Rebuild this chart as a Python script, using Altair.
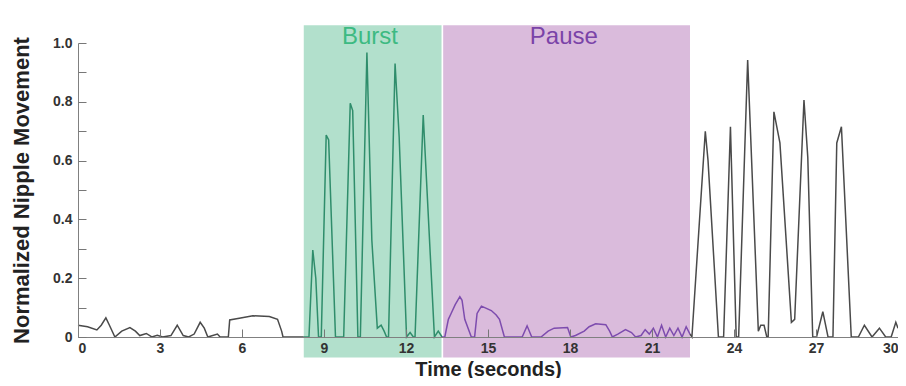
import altair as alt
import pandas as pd

# ---- data ----
time_s = [
    0.00, 0.35, 0.69, 0.85, 1.02, 1.15, 1.35, 1.60, 1.90, 2.10, 2.26, 2.50, 2.70, 2.90, 3.10,
    3.40, 3.63, 3.85, 4.05, 4.25, 4.47, 4.62, 4.75, 5.10, 5.20, 5.50, 5.55, 5.90, 6.40, 7.00,
    7.30, 7.45, 7.50, 8.26,
    8.45, 8.59, 8.70, 8.80, 8.90, 9.08, 9.17, 9.42, 9.72, 9.96, 10.05, 10.24, 10.33, 10.57,
    10.75, 10.95, 11.09, 11.20, 11.29, 11.36, 11.60, 11.75, 12.02, 12.15, 12.27, 12.33, 12.63,
    13.04, 13.18, 13.32,
    13.42, 13.55, 13.65, 13.80, 13.97, 14.05, 14.15, 14.39, 14.51, 14.60, 14.76, 15.12, 15.30,
    15.42, 15.60, 16.25, 16.43, 16.60, 16.94, 17.20, 17.42, 17.91, 18.03, 18.20, 18.52, 18.70,
    18.94, 19.31, 19.45, 19.55, 19.75, 20.03, 20.25, 20.40, 20.60, 20.75, 20.90, 21.05, 21.20,
    21.35, 21.50, 21.65, 21.80, 21.95, 22.10, 22.25, 22.39,
    22.46, 22.95, 23.05, 23.43, 23.62, 23.87, 24.08, 24.17, 24.50, 24.89, 24.98, 25.10, 25.20,
    25.25, 25.46, 25.68, 26.10, 26.22, 26.56, 26.70, 26.88, 27.02, 27.25, 27.44, 27.62, 27.76,
    27.93, 28.29, 28.55, 28.77, 29.05, 29.32, 29.55, 29.75, 29.92, 30.00,
]
movement = [
    0.040, 0.035, 0.024, 0.040, 0.065, 0.040, 0.000, 0.020, 0.032, 0.020, 0.005, 0.012, 0.000, 0.006, 0.000,
    0.005, 0.040, 0.005, 0.000, 0.010, 0.050, 0.030, 0.000, 0.010, 0.000, 0.000, 0.058, 0.064, 0.072, 0.070,
    0.060, 0.020, 0.000, 0.000,
    0.000, 0.296, 0.200, 0.000, 0.000, 0.687, 0.670, 0.000, 0.000, 0.795, 0.770, 0.000, 0.000, 0.968,
    0.330, 0.030, 0.040, 0.020, 0.000, 0.000, 0.930, 0.680, 0.000, 0.015, 0.000, 0.000, 0.755,
    0.000, 0.020, 0.000,
    0.000, 0.060, 0.080, 0.110, 0.137, 0.125, 0.060, 0.000, 0.000, 0.080, 0.105, 0.090, 0.075,
    0.060, 0.000, 0.000, 0.038, 0.000, 0.000, 0.020, 0.030, 0.032, 0.000, 0.005, 0.020, 0.035,
    0.045, 0.042, 0.020, 0.000, 0.010, 0.025, 0.015, 0.000, 0.005, 0.025, 0.010, 0.030, 0.000,
    0.040, 0.000, 0.030, 0.005, 0.030, 0.000, 0.035, 0.010,
    0.000, 0.700, 0.600, 0.000, 0.000, 0.715, 0.000, 0.000, 0.942, 0.020, 0.040, 0.040, 0.000,
    0.000, 0.766, 0.660, 0.050, 0.060, 0.806, 0.610, 0.000, 0.000, 0.086, 0.000, 0.000, 0.660,
    0.715, 0.000, 0.000, 0.040, 0.000, 0.030, 0.000, 0.000, 0.050, 0.030,
]

phase_names = ["Burst", "Pause"]
phase_start = [8.26, 13.36]
phase_end = [13.30, 22.39]
x_ticks = list(range(0, 31, 3))
y_ticks = [0, 0.2, 0.4, 0.6, 0.8, 1.0]
y_minor = [round(i * 0.1, 1) for i in range(11)]

W, H = 820, 294

# ---- tables ----
bounds = [(0.0, 8.26, "other", 0), (8.26, 13.32, "burst", 1),
          (13.32, 22.39, "pause", 2), (22.39, 30.0, "other", 3)]
rows = []
for lo, hi, cls, grp in bounds:
    for t, v in zip(time_s, movement):
        if lo <= t <= hi:
            rows.append({"t": t, "v": v, "cls": cls, "grp": grp})
line_df = pd.DataFrame(rows)

phase_df = pd.DataFrame({
    "name": phase_names,
    "x": phase_start,
    "x2": phase_end,
    "y": [-0.07, -0.07],
    "y2": [1.06, 1.06],
    "xc": [(a + b) / 2 - 0.1 for a, b in zip(phase_start, phase_end)],
    "yc": [1.02, 1.02],
})

xscale = alt.Scale(domain=[0, 30], nice=False, zero=False)
yscale = alt.Scale(domain=[0, 1], nice=False)

rects = alt.Chart(phase_df).mark_rect(clip=False, opacity=1).encode(
    x=alt.X("x:Q", scale=xscale, axis=None),
    x2="x2:Q",
    y=alt.Y("y:Q", scale=yscale, axis=None),
    y2="y2:Q",
    fill=alt.Fill("name:N", scale=alt.Scale(domain=phase_names, range=["#b2e0cc", "#dabbdc"]),
                  legend=None),
)

labels = alt.Chart(phase_df).mark_text(
    clip=False, font="Liberation Sans", fontSize=24, baseline="middle", align="center"
).encode(
    x=alt.X("xc:Q", scale=xscale, axis=None),
    y=alt.Y("yc:Q", scale=yscale, axis=None),
    text="name:N",
    color=alt.Color("name:N", scale=alt.Scale(domain=phase_names, range=["#3dba82", "#7a43a8"]),
                    legend=None),
)

line = alt.Chart(line_df).mark_line(strokeWidth=1.5, clip=False).encode(
    x=alt.X(
        "t:Q", scale=xscale,
        axis=alt.Axis(values=x_ticks, title="Time (seconds)", ticks=False, tickSize=0, zindex=2,
                      labelPadding=4, titleBaseline="alphabetic", titleY=38, titleFontSize=20,
                      format="d"),
    ),
    y=alt.Y(
        "v:Q", scale=yscale,
        axis=alt.Axis(values=y_ticks, title="Normalized Nipple Movement", ticks=False, tickSize=0,
                      zindex=2, labelPadding=6, titlePadding=19, titleFontSize=22,
                      labelExpr="datum.value == 0 ? '0' : format(datum.value, '.1f')"),
    ),
    color=alt.Color("cls:N", scale=alt.Scale(domain=["other", "burst", "pause"],
                                              range=["#4a4a4a", "#2f8d6b", "#7d4cae"]), legend=None),
    detail="grp:N",
)

# inward ticks drawn through extra axes on the same scales
tick_df = pd.DataFrame({"t": [0.0, 30.0], "v": [0.0, 1.0]})
ticks = alt.Chart(tick_df).mark_point(opacity=0).encode(
    x=alt.X("t:Q", scale=xscale,
            axis=alt.Axis(orient="top", offset=-H, values=x_ticks, labels=False, domain=False, zindex=2,
                          ticks=True, tickSize=8, title=None, tickColor="#777777")),
    y=alt.Y("v:Q", scale=yscale,
            axis=alt.Axis(orient="right", offset=-W, values=y_minor, labels=False, domain=False, zindex=2,
                          ticks=True, tickSize=8, title=None, tickColor="#777777")),
)

chart = alt.layer(rects, labels, line, ticks).resolve_axis(
    x="independent", y="independent"
).resolve_scale(
    color="independent", fill="independent"
).properties(
    width=W, height=H,
    autosize=alt.AutoSizeParams(type="none"),
    padding={"left": 70, "top": 35, "right": 0, "bottom": 41},
    background="white",
).configure_view(stroke=None).configure_axis(
    grid=False,
    domainColor="#808080",
    labelFont="Liberation Sans",
    labelFontSize=14,
    labelFontWeight="bold",
    labelColor="#333333",
    titleFont="Liberation Sans",
    titleFontWeight="bold",
    titleColor="#222222",
)

chart.save("out.html", embed_options={"renderer": "svg", "actions": False})
